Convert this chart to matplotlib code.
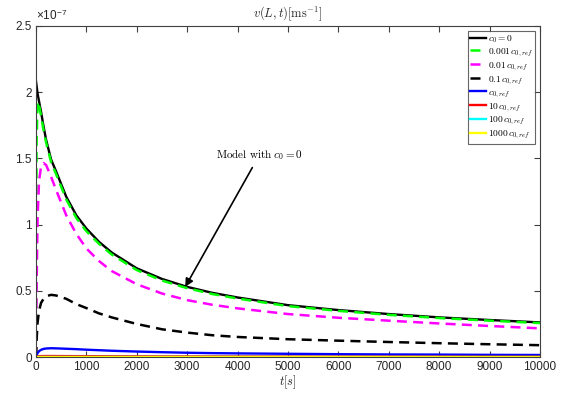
import numpy as np
import matplotlib
matplotlib.use("Agg")
import matplotlib.pyplot as plt
from matplotlib.ticker import FuncFormatter, MultipleLocator

plt.rcParams['font.family'] = ['Liberation Sans', 'DejaVu Sans']
plt.rcParams['mathtext.fontset'] = 'cm'

# ---- data, velocity in m/s ----
t = [0, 10, 30, 60, 100, 150, 200, 300, 400, 600, 800, 1000, 1250, 1500,
     2000, 2500, 3000, 3500, 4000, 5000, 6000, 7000, 8000, 9000, 10000]

v_c0_zero = [2.08, 2.05, 1.99, 1.93, 1.85, 1.74, 1.64, 1.49, 1.40, 1.21, 1.07, 0.97, 0.87, 0.79,
             0.67, 0.59, 0.53, 0.485, 0.45, 0.392, 0.355, 0.325, 0.30, 0.28, 0.262]
v_0001 = [0.0, 1.60, 1.93, 1.90, 1.82, 1.71, 1.62, 1.47, 1.38, 1.19, 1.05, 0.95, 0.855, 0.775,
          0.657, 0.578, 0.52, 0.476, 0.442, 0.385, 0.349, 0.319, 0.295, 0.275, 0.257]
v_001 = [0.0, 0.50, 1.05, 1.33, 1.44, 1.465, 1.45, 1.36, 1.26, 1.07, 0.93, 0.82, 0.725, 0.65,
         0.55, 0.48, 0.43, 0.395, 0.368, 0.325, 0.297, 0.275, 0.254, 0.235, 0.217]
v_01 = [0.0, 0.12, 0.26, 0.35, 0.41, 0.44, 0.46, 0.47, 0.465, 0.44, 0.40, 0.37, 0.33, 0.30,
        0.25, 0.21, 0.185, 0.165, 0.152, 0.135, 0.124, 0.114, 0.105, 0.097, 0.09]
v_1 = [0.0, 0.015, 0.03, 0.045, 0.055, 0.062, 0.065, 0.067, 0.066, 0.063, 0.060, 0.056, 0.052, 0.048,
       0.042, 0.037, 0.033, 0.030, 0.028, 0.025, 0.022, 0.020, 0.019, 0.017, 0.016]
v_10 = [0.0, 0.004, 0.006, 0.007, 0.0075, 0.0078, 0.008, 0.008, 0.0078, 0.0075, 0.0072, 0.007, 0.0066, 0.0062,
        0.0057, 0.0053, 0.005, 0.0047, 0.0045, 0.0041, 0.0038, 0.0036, 0.0034, 0.0032, 0.003]
v_100 = [0.0, 0.0008, 0.001, 0.001, 0.001, 0.001, 0.001, 0.001, 0.001, 0.001, 0.001, 0.0009, 0.0009, 0.0009,
         0.0008, 0.0008, 0.0007, 0.0007, 0.0007, 0.0006, 0.0006, 0.0005, 0.0005, 0.0005, 0.0005]
v_1000 = [0.0, 0.0002, 0.0002, 0.0002, 0.0002, 0.0002, 0.0002, 0.0002, 0.0002, 0.0002, 0.0002, 0.0002, 0.0002, 0.0002,
          0.0002, 0.0002, 0.0002, 0.0002, 0.0002, 0.0002, 0.0001, 0.0001, 0.0001, 0.0001, 0.0001]

labels = [r'$c_0 = 0$', r'$0.001\,c_{0,ref}$', r'$0.01\,c_{0,ref}$', r'$0.1\,c_{0,ref}$',
          r'$c_{0,ref}$', r'$10\,c_{0,ref}$', r'$100\,c_{0,ref}$', r'$1000\,c_{0,ref}$']
series = [v_c0_zero, v_0001, v_001, v_01, v_1, v_10, v_100, v_1000]
colors = ['black', '#00ff00', '#ff00ff', 'black', '#0000ff', '#ff0000', '#00ffff', '#ffff00']
styles = ['-', '--', '--', '--', '-', '-', '-', '-']

scale = 1e-7
gray = '#404040'

fig = plt.figure(figsize=(5.72, 3.99), dpi=100)
ax = fig.add_axes([0.063, 0.105, 0.881, 0.830])

for v, lab, c, ls in zip(series, labels, colors, styles):
    y = np.array(v) * scale
    if ls == '--':
        ax.plot(t, y, color=c, ls=ls, lw=1.8, dashes=(4, 2.5), label=lab)
    else:
        ax.plot(t, y, color=c, ls=ls, lw=1.7, label=lab)

ax.set_xlim(0, 10000)
ax.set_ylim(0, 2.5 * scale)
ax.xaxis.set_major_locator(MultipleLocator(1000))
ax.yaxis.set_major_locator(MultipleLocator(0.5 * scale))
ax.yaxis.set_major_formatter(FuncFormatter(lambda v, p: '%g' % round(v / scale, 3)))

ax.tick_params(direction='in', top=True, right=True, length=4, width=0.8,
               colors=gray, labelsize=8.5, labelcolor='#262626', pad=3)
for s in ax.spines.values():
    s.set_color(gray)
    s.set_linewidth(0.8)

# exponent label, MATLAB style
ax.text(0.0, 1.008, '×10$^{\\mathregular{-7}}$', transform=ax.transAxes,
        fontsize=8.5, color='#262626', ha='left', va='bottom')

ax.set_title(r'$v(L,t)[\mathrm{ms}^{-1}]$', fontsize=9, color='#262626', pad=6)
ax.set_xlabel(r'$t[s]$', fontsize=9, color='#262626', labelpad=0)

ax.annotate(r'$\mathrm{Model\ with\ }c_0 = 0$', xy=(2960, 0.53 * scale), xytext=(3570, 1.47 * scale),
            fontsize=8, ha='left', va='bottom',
            arrowprops=dict(arrowstyle='-|>', color='black', lw=1.2, mutation_scale=12,
                            shrinkA=2, shrinkB=0))

leg = ax.legend(loc='upper right', fontsize=6.8, frameon=True, fancybox=False,
                handlelength=1.7, handletextpad=0.2, labelspacing=0.12,
                borderpad=0.25, borderaxespad=0.5)
leg.get_frame().set_edgecolor(gray)
leg.get_frame().set_linewidth(0.8)

fig.savefig('out.png', dpi=100)
